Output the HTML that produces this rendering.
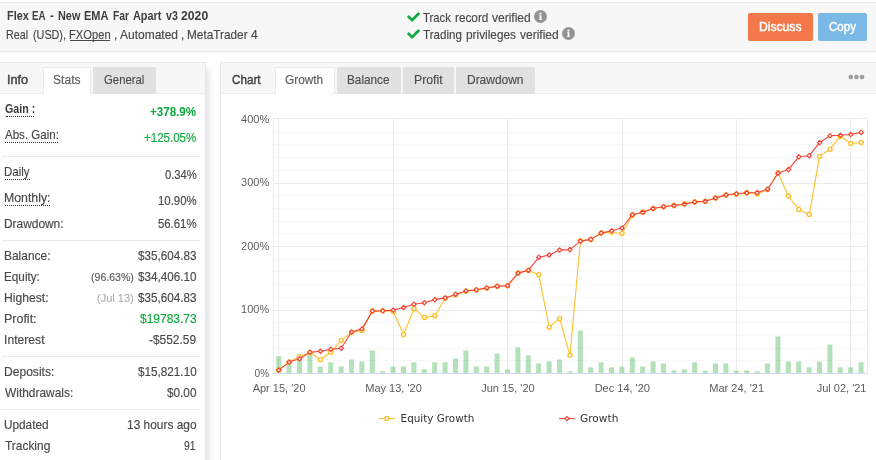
<!DOCTYPE html>
<html lang="en">
<head>
<meta charset="utf-8">
<title>Flex EA - New EMA Far Apart v3 2020</title>
<style>
html,body{margin:0;padding:0;width:876px;height:460px;overflow:hidden;background:#fff;}
#app{width:876px;height:460px;overflow:hidden;background:#fff;position:relative;font-family:"Liberation Sans",Arial,sans-serif;font-size:12.4px;color:#4a4a4a;}
.t{position:absolute;white-space:nowrap;line-height:14px;height:14px;transform-origin:0 0;-webkit-text-stroke:0.15px currentColor;text-decoration:none;}
.b{font-weight:bold;-webkit-text-stroke:0;}
.m{-webkit-text-stroke:0.45px currentColor;}
.dl{position:absolute;height:0;border-top:1px dotted #333;}
.ul{position:absolute;height:1px;}
.hdr{position:absolute;left:-1px;top:2px;width:878px;height:50px;box-sizing:border-box;background:#f7f7f7;border:1px solid #e8e8e8;box-shadow:0 1px 2px rgba(0,0,0,.05);}
.panel{position:absolute;top:62px;height:420px;background:#fff;border:1px solid #e8e8e8;box-sizing:border-box;}
.pl{left:-1px;width:207px;box-shadow:4px 5px 7px -2px rgba(50,40,100,.17);}
.pr{left:220px;width:670px;}
.tabs{position:absolute;left:0;top:0;right:0;height:30px;background:#f7f7f7;border-bottom:1px solid #ececec;}
.tab{position:absolute;top:4px;height:27px;background:#e1e1e1;box-sizing:border-box;}
.tab.on{background:#fff;border:1px solid #ececec;border-bottom:0;}
.hr{position:absolute;left:2px;width:198px;height:1px;background:#e9e9e9;}
.btn{position:absolute;top:13px;height:28px;border-radius:2px;}
.chart{position:absolute;left:0;top:0;}
.chart text{font-family:"Liberation Sans",Arial,sans-serif;font-size:11px;fill:#5c5c5c;}
.chart .lg{font-family:"DejaVu Sans","Liberation Sans",sans-serif;font-size:11px;fill:#333;}
.ic{position:absolute;}
</style>
</head>
<body>
<div id="app">
<div class="hdr"></div>
<svg class="ic" style="left:406px;top:11px" width="15" height="12" viewBox="0 0 15 12"><path d="M0.9 5.92 L2.88 3.94 L6.08 7.14 L12.22 1 L14.2 2.98 L6.08 11.1 Z" fill="#0eaa3e"/></svg>
<svg class="ic" style="left:534px;top:10.3px" width="13" height="13" viewBox="0 0 13 13"><circle cx="6.5" cy="6.5" r="6.45" fill="#939393"/><path d="M5.3 5.2 H7.4 V9.2 H8.1 V10.1 H4.9 V9.2 H5.6 V6.1 H5.3 Z M5.5 2.7 H7.4 V4.4 H5.5 Z" fill="#fff"/></svg>
<svg class="ic" style="left:406px;top:28px" width="15" height="12" viewBox="0 0 15 12"><path d="M0.9 5.92 L2.88 3.94 L6.08 7.14 L12.22 1 L14.2 2.98 L6.08 11.1 Z" fill="#0eaa3e"/></svg>
<svg class="ic" style="left:561.5px;top:27.4px" width="13" height="13" viewBox="0 0 13 13"><circle cx="6.5" cy="6.5" r="6.45" fill="#939393"/><path d="M5.3 5.2 H7.4 V9.2 H8.1 V10.1 H4.9 V9.2 H5.6 V6.1 H5.3 Z M5.5 2.7 H7.4 V4.4 H5.5 Z" fill="#fff"/></svg>
<div class="btn" style="left:748px;width:65px;background:#f4794a"></div>
<div class="btn" style="left:818px;width:49px;background:#7ab9e6"></div>

<div class="panel pl">
  <div class="tabs"></div>
  <div class="tab on" style="left:43px;width:47.5px"></div>
  <div class="tab" style="left:93px;width:63px"></div>
</div>
<div class="hr" style="top:156px"></div>
<div class="hr" style="top:240px"></div>
<div class="hr" style="top:356px"></div>
<div class="hr" style="top:409px"></div>

<div class="panel pr">
  <div class="tabs"></div>
  <div class="tab on" style="left:53.6px;width:60px"></div>
  <div class="tab" style="left:116px;width:64px"></div>
  <div class="tab" style="left:182px;width:51px"></div>
  <div class="tab" style="left:235px;width:79px"></div>
</div>
<svg class="ic" style="left:848px;top:74px" width="18" height="6" viewBox="0 0 18 6"><rect x="0.6" y="0.8" width="4.4" height="4.4" rx="1.6" fill="#a0a0a0"/><rect x="6.2" y="0.8" width="4.4" height="4.4" rx="1.6" fill="#a0a0a0"/><rect x="11.8" y="0.8" width="4.4" height="4.4" rx="1.6" fill="#a0a0a0"/></svg>

<div class="grp title">
<span class="t b" style="left:6.59px;top:9px;transform:scaleX(0.8821);color:#3c3c3c">Flex</span>
<span class="t b" style="left:32.26px;top:9px;transform:scaleX(0.7844);color:#3c3c3c">EA</span>
<span class="t b" style="left:50.47px;top:9px;transform:scaleX(0.9300);color:#3c3c3c">-</span>
<span class="t b" style="left:57.69px;top:9px;transform:scaleX(0.8788);color:#3c3c3c">New</span>
<span class="t b" style="left:84.39px;top:9px;transform:scaleX(0.8849);color:#3c3c3c">EMA</span>
<span class="t b" style="left:112.93px;top:9px;transform:scaleX(0.8301);color:#3c3c3c">Far</span>
<span class="t b" style="left:133.13px;top:9px;transform:scaleX(0.8766);color:#3c3c3c">Apart</span>
<span class="t b" style="left:165.65px;top:9px;transform:scaleX(0.8566);color:#3c3c3c">v3</span>
<span class="t b" style="left:181.16px;top:9px;transform:scaleX(0.9868);color:#3c3c3c">2020</span>
</div>
<div class="grp line2">
<span class="t" style="left:6.38px;top:28px;transform:scaleX(0.8653);color:#484848">Real</span>
<span class="t" style="left:33.10px;top:28px;transform:scaleX(0.8708);color:#484848">(USD),</span>
<a class="t" style="left:69.15px;top:28px;transform:scaleX(0.9028);color:#484848">FXOpen</a>
<i class="ul" style="left:70.0px;top:40px;width:40.0px;background:#484848"></i>
<span class="t" style="left:113.67px;top:28px;transform:scaleX(0.9300);color:#484848">,</span>
<span class="t" style="left:120.25px;top:28px;transform:scaleX(0.9679);color:#484848">Automated</span>
<span class="t" style="left:180.87px;top:28px;transform:scaleX(0.9300);color:#484848">,</span>
<span class="t" style="left:186.80px;top:28px;transform:scaleX(0.9534);color:#484848">MetaTrader</span>
<span class="t" style="left:251.26px;top:28px;transform:scaleX(0.9760);color:#484848">4</span>
</div>
<div class="grp trk">
<span class="t" style="left:423.22px;top:11px;transform:scaleX(0.9140);color:#484848">Track</span>
<span class="t" style="left:455.14px;top:11px;transform:scaleX(0.9507);color:#484848">record</span>
<span class="t" style="left:492.45px;top:11px;transform:scaleX(0.9694);color:#484848">verified</span>
</div>
<div class="grp trd">
<span class="t" style="left:423.22px;top:28px;transform:scaleX(0.9370);color:#484848">Trading</span>
<span class="t" style="left:465.83px;top:28px;transform:scaleX(0.9551);color:#484848">privileges</span>
<span class="t" style="left:520.25px;top:28px;transform:scaleX(0.9694);color:#484848">verified</span>
</div>
<span class="t m" style="left:759.47px;top:20px;transform:scaleX(0.9798);color:#fff">Discuss</span>
<span class="t m" style="left:828.65px;top:20px;transform:scaleX(0.9304);color:#fff">Copy</span>
<span class="t m" style="left:6.87px;top:73px;transform:scaleX(1.0237);color:#444">Info</span>
<span class="t" style="left:52.62px;top:73px;transform:scaleX(0.9759);color:#5e5e5e">Stats</span>
<span class="t" style="left:104.39px;top:73px;transform:scaleX(0.9158);color:#4c4c4c">General</span>
<span class="t m" style="left:231.64px;top:73px;transform:scaleX(0.9441);color:#444">Chart</span>
<span class="t" style="left:285.07px;top:73px;transform:scaleX(0.9561);color:#5e5e5e">Growth</span>
<span class="t" style="left:347.40px;top:73px;transform:scaleX(0.9491);color:#4c4c4c">Balance</span>
<span class="t" style="left:413.96px;top:73px;transform:scaleX(0.9892);color:#4c4c4c">Profit</span>
<span class="t" style="left:466.99px;top:73px;transform:scaleX(0.9648);color:#4c4c4c">Drawdown</span>
<span class="t b" style="left:5.12px;top:102px;transform:scaleX(0.8612);color:#3c3c3c">Gain :</span>
<i class="dl" style="left:6px;top:116px;width:28px"></i>
<span class="t" style="left:5.15px;top:128px;transform:scaleX(0.9313);color:#484848">Abs. Gain:</span>
<i class="dl" style="left:5px;top:142px;width:53px"></i>
<span class="t" style="left:4.22px;top:165px;transform:scaleX(0.9264);color:#484848">Daily</span>
<i class="dl" style="left:5px;top:179px;width:25px"></i>
<span class="t" style="left:4.16px;top:191px;transform:scaleX(0.9933);color:#484848">Monthly:</span>
<i class="dl" style="left:5px;top:205px;width:45px"></i>
<span class="t" style="left:4.19px;top:217px;transform:scaleX(0.9608);color:#484848">Drawdown:</span>
<span class="t" style="left:4.29px;top:249px;transform:scaleX(0.9641);color:#484848">Balance:</span>
<span class="t" style="left:4.30px;top:270px;transform:scaleX(0.9469);color:#484848">Equity:</span>
<span class="t" style="left:4.27px;top:291px;transform:scaleX(0.9815);color:#484848">Highest:</span>
<span class="t" style="left:4.14px;top:312px;transform:scaleX(1.0066);color:#484848">Profit:</span>
<span class="t" style="left:3.92px;top:333px;transform:scaleX(0.9812);color:#484848">Interest</span>
<span class="t" style="left:4.18px;top:365px;transform:scaleX(0.9747);color:#484848">Deposits:</span>
<span class="t" style="left:5.15px;top:386px;transform:scaleX(0.9627);color:#484848">Withdrawals:</span>
<span class="t" style="left:4.20px;top:418px;transform:scaleX(0.9500);color:#484848">Updated</span>
<span class="t" style="left:5.01px;top:439px;transform:scaleX(0.9620);color:#484848">Tracking</span>
<span class="t b" style="left:150.08px;top:105px;transform:scaleX(0.9351);color:#0ea83d">+378.9%</span>
<span class="t" style="left:143.98px;top:131px;transform:scaleX(0.9312);color:#0ea83d">+125.05%</span>
<span class="t" style="left:164.50px;top:168px;transform:scaleX(0.9036);color:#484848">0.34%</span>
<span class="t" style="left:157.73px;top:194px;transform:scaleX(0.9198);color:#484848">10.90%</span>
<span class="t" style="left:157.89px;top:217px;transform:scaleX(0.9159);color:#484848">56.61%</span>
<span class="t" style="left:137.71px;top:249px;transform:scaleX(0.9412);color:#484848">$35,604.83</span>
<span class="t" style="left:91.10px;top:270px;transform:scaleX(0.9964);color:#5a5a5a;font-size:10.6px">(96.63%)</span>
<span class="t" style="left:137.71px;top:270px;transform:scaleX(0.9412);color:#484848">$34,406.10</span>
<span class="t" style="left:97.07px;top:291px;transform:scaleX(1.0397);color:#b0b0b0;font-size:10.6px">(Jul 13)</span>
<span class="t" style="left:137.71px;top:291px;transform:scaleX(0.9412);color:#484848">$35,604.83</span>
<span class="t" style="left:139.81px;top:312px;transform:scaleX(0.9671);color:#0ea83d">$19783.73</span>
<span class="t" style="left:149.47px;top:333px;transform:scaleX(0.9623);color:#484848">-$552.59</span>
<span class="t" style="left:137.71px;top:365px;transform:scaleX(0.9461);color:#484848">$15,821.10</span>
<span class="t" style="left:166.91px;top:386px;transform:scaleX(0.9504);color:#484848">$0.00</span>
<span class="t" style="left:126.89px;top:418px;transform:scaleX(0.9618);color:#484848">13 hours ago</span>
<span class="t" style="left:183.53px;top:439px;transform:scaleX(0.8353);color:#484848">91</span>

<svg class="chart" width="876" height="460" viewBox="0 0 876 460">
<g fill="none" stroke-width="1">
<path d="M273 118.5 H868" stroke="#eaeaea"/>
<path d="M273 132.5 H868" stroke="#f7f7f7"/>
<path d="M273 144.5 H868" stroke="#f7f7f7"/>
<path d="M273 157.5 H868" stroke="#f7f7f7"/>
<path d="M273 170.5 H868" stroke="#f7f7f7"/>
<path d="M273 183.5 H868" stroke="#eaeaea"/>
<path d="M273 195.5 H868" stroke="#f7f7f7"/>
<path d="M273 208.5 H868" stroke="#f7f7f7"/>
<path d="M273 221.5 H868" stroke="#f7f7f7"/>
<path d="M273 233.5 H868" stroke="#f7f7f7"/>
<path d="M273 246.5 H868" stroke="#eaeaea"/>
<path d="M273 259.5 H868" stroke="#f7f7f7"/>
<path d="M273 271.5 H868" stroke="#f7f7f7"/>
<path d="M273 284.5 H868" stroke="#f7f7f7"/>
<path d="M273 297.5 H868" stroke="#f7f7f7"/>
<path d="M273 310.5 H868" stroke="#eaeaea"/>
<path d="M273 322.5 H868" stroke="#f7f7f7"/>
<path d="M273 335.5 H868" stroke="#f7f7f7"/>
<path d="M273 348.5 H868" stroke="#f7f7f7"/>
<path d="M273 360.5 H868" stroke="#f7f7f7"/>
<path d="M278.5 118 V373" stroke="#ececec"/>
<path d="M393.5 118 V373" stroke="#ececec"/>
<path d="M507.5 118 V373" stroke="#ececec"/>
<path d="M622.5 118 V373" stroke="#ececec"/>
<path d="M736.5 118 V373" stroke="#ececec"/>
<path d="M850.5 118 V373" stroke="#ececec"/>
<path d="M273.5 118 V374" stroke="#ececec"/>
<path d="M867.5 118 V374" stroke="#ececec"/>
</g>
<g fill="#41b450" fill-opacity="0.40">
<rect x="276.2" y="356.2" width="5" height="16.8"/>
<rect x="286.6" y="364.4" width="5" height="8.6"/>
<rect x="297.0" y="360.0" width="5" height="13.0"/>
<rect x="307.4" y="354.8" width="5" height="18.2"/>
<rect x="317.8" y="366.5" width="5" height="6.5"/>
<rect x="328.2" y="362.3" width="5" height="10.7"/>
<rect x="338.6" y="366.5" width="5" height="6.5"/>
<rect x="349.0" y="359.5" width="5" height="13.5"/>
<rect x="359.4" y="361.4" width="5" height="11.6"/>
<rect x="369.8" y="350.5" width="5" height="22.5"/>
<rect x="380.2" y="371.3" width="5" height="1.7"/>
<rect x="390.6" y="366.5" width="5" height="6.5"/>
<rect x="401.0" y="366.5" width="5" height="6.5"/>
<rect x="411.4" y="362.3" width="5" height="10.7"/>
<rect x="421.8" y="369.3" width="5" height="3.7"/>
<rect x="432.2" y="362.3" width="5" height="10.7"/>
<rect x="442.6" y="362.3" width="5" height="10.7"/>
<rect x="453.0" y="358.5" width="5" height="14.5"/>
<rect x="463.4" y="350.5" width="5" height="22.5"/>
<rect x="473.8" y="366.5" width="5" height="6.5"/>
<rect x="484.2" y="366.5" width="5" height="6.5"/>
<rect x="494.6" y="353.6" width="5" height="19.4"/>
<rect x="505.0" y="369.3" width="5" height="3.7"/>
<rect x="515.4" y="347.3" width="5" height="25.7"/>
<rect x="525.8" y="355.3" width="5" height="17.7"/>
<rect x="536.2" y="363.5" width="5" height="9.5"/>
<rect x="546.6" y="361.4" width="5" height="11.6"/>
<rect x="557.0" y="359.5" width="5" height="13.5"/>
<rect x="567.4" y="371.3" width="5" height="1.7"/>
<rect x="577.8" y="330.5" width="5" height="42.5"/>
<rect x="588.2" y="367.3" width="5" height="5.7"/>
<rect x="598.6" y="362.3" width="5" height="10.7"/>
<rect x="609.0" y="367.3" width="5" height="5.7"/>
<rect x="619.4" y="366.5" width="5" height="6.5"/>
<rect x="629.8" y="357.4" width="5" height="15.6"/>
<rect x="640.2" y="366.5" width="5" height="6.5"/>
<rect x="650.6" y="361.4" width="5" height="11.6"/>
<rect x="661.0" y="363.5" width="5" height="9.5"/>
<rect x="671.4" y="370.5" width="5" height="2.5"/>
<rect x="681.8" y="369.3" width="5" height="3.7"/>
<rect x="692.2" y="362.3" width="5" height="10.7"/>
<rect x="702.6" y="370.5" width="5" height="2.5"/>
<rect x="713.0" y="363.5" width="5" height="9.5"/>
<rect x="723.4" y="363.5" width="5" height="9.5"/>
<rect x="733.8" y="370.5" width="5" height="2.5"/>
<rect x="744.2" y="370.5" width="5" height="2.5"/>
<rect x="754.6" y="371.3" width="5" height="1.7"/>
<rect x="765.0" y="363.5" width="5" height="9.5"/>
<rect x="775.4" y="336.5" width="5" height="36.5"/>
<rect x="785.8" y="361.4" width="5" height="11.6"/>
<rect x="796.2" y="361.4" width="5" height="11.6"/>
<rect x="806.6" y="367.3" width="5" height="5.7"/>
<rect x="817.0" y="361.4" width="5" height="11.6"/>
<rect x="827.4" y="344.5" width="5" height="28.5"/>
<rect x="837.8" y="367.3" width="5" height="5.7"/>
<rect x="848.2" y="367.3" width="5" height="5.7"/>
<rect x="858.6" y="362.3" width="5" height="10.7"/>
</g>
<path d="M273 373.5 H868" stroke="#d2daed" stroke-width="1" fill="none"/>
<path d="M278.8 370.1 L289.2 362.1 L299.6 356.6 L310.0 352.4 L320.4 359.7 L330.8 352.2 L341.2 340.4 L351.6 332.4 L362.0 330.5 L372.4 311.1 L382.8 310.8 L393.2 311.5 L403.6 334.6 L414.0 308.7 L424.4 317.4 L434.8 315.7 L445.2 298.2 L455.6 294.7 L466.0 291.2 L476.4 290.0 L486.8 288.2 L497.2 286.2 L507.6 285.7 L518.0 273.1 L528.4 270.4 L538.8 274.7 L549.2 327.2 L559.6 318.4 L570.0 355.3 L580.4 241.1 L590.8 239.4 L601.2 233.1 L611.6 232.3 L622.0 233.5 L632.4 215.0 L642.8 212.3 L653.2 208.5 L663.6 206.7 L674.0 205.5 L684.4 203.8 L694.8 201.9 L705.2 201.6 L715.6 198.0 L726.0 194.9 L736.4 194.2 L746.8 192.8 L757.2 194.0 L767.6 189.5 L778.0 172.8 L788.4 196.0 L798.8 209.4 L809.2 214.6 L819.6 156.4 L830.0 149.2 L840.4 136.2 L850.8 143.5 L861.2 142.5" stroke="#fbc02d" stroke-width="1.1" fill="none" stroke-linejoin="round"/>
<g fill="#fff" stroke="#fbc02d" stroke-width="1.4">
<circle cx="278.8" cy="370.1" r="2.05"/>
<circle cx="289.2" cy="362.1" r="2.05"/>
<circle cx="299.6" cy="356.6" r="2.05"/>
<circle cx="310.0" cy="352.4" r="2.05"/>
<circle cx="320.4" cy="359.7" r="2.05"/>
<circle cx="330.8" cy="352.2" r="2.05"/>
<circle cx="341.2" cy="340.4" r="2.05"/>
<circle cx="351.6" cy="332.4" r="2.05"/>
<circle cx="362.0" cy="330.5" r="2.05"/>
<circle cx="372.4" cy="311.1" r="2.05"/>
<circle cx="382.8" cy="310.8" r="2.05"/>
<circle cx="393.2" cy="311.5" r="2.05"/>
<circle cx="403.6" cy="334.6" r="2.05"/>
<circle cx="414.0" cy="308.7" r="2.05"/>
<circle cx="424.4" cy="317.4" r="2.05"/>
<circle cx="434.8" cy="315.7" r="2.05"/>
<circle cx="445.2" cy="298.2" r="2.05"/>
<circle cx="455.6" cy="294.7" r="2.05"/>
<circle cx="466.0" cy="291.2" r="2.05"/>
<circle cx="476.4" cy="290.0" r="2.05"/>
<circle cx="486.8" cy="288.2" r="2.05"/>
<circle cx="497.2" cy="286.2" r="2.05"/>
<circle cx="507.6" cy="285.7" r="2.05"/>
<circle cx="518.0" cy="273.1" r="2.05"/>
<circle cx="528.4" cy="270.4" r="2.05"/>
<circle cx="538.8" cy="274.7" r="2.05"/>
<circle cx="549.2" cy="327.2" r="2.05"/>
<circle cx="559.6" cy="318.4" r="2.05"/>
<circle cx="570.0" cy="355.3" r="2.05"/>
<circle cx="580.4" cy="241.1" r="2.05"/>
<circle cx="590.8" cy="239.4" r="2.05"/>
<circle cx="601.2" cy="233.1" r="2.05"/>
<circle cx="611.6" cy="232.3" r="2.05"/>
<circle cx="622.0" cy="233.5" r="2.05"/>
<circle cx="632.4" cy="215.0" r="2.05"/>
<circle cx="642.8" cy="212.3" r="2.05"/>
<circle cx="653.2" cy="208.5" r="2.05"/>
<circle cx="663.6" cy="206.7" r="2.05"/>
<circle cx="674.0" cy="205.5" r="2.05"/>
<circle cx="684.4" cy="203.8" r="2.05"/>
<circle cx="694.8" cy="201.9" r="2.05"/>
<circle cx="705.2" cy="201.6" r="2.05"/>
<circle cx="715.6" cy="198.0" r="2.05"/>
<circle cx="726.0" cy="194.9" r="2.05"/>
<circle cx="736.4" cy="194.2" r="2.05"/>
<circle cx="746.8" cy="192.8" r="2.05"/>
<circle cx="757.2" cy="194.0" r="2.05"/>
<circle cx="767.6" cy="189.5" r="2.05"/>
<circle cx="778.0" cy="172.8" r="2.05"/>
<circle cx="788.4" cy="196.0" r="2.05"/>
<circle cx="798.8" cy="209.4" r="2.05"/>
<circle cx="809.2" cy="214.6" r="2.05"/>
<circle cx="819.6" cy="156.4" r="2.05"/>
<circle cx="830.0" cy="149.2" r="2.05"/>
<circle cx="840.4" cy="136.2" r="2.05"/>
<circle cx="850.8" cy="143.5" r="2.05"/>
<circle cx="861.2" cy="142.5" r="2.05"/>
</g>
<path d="M278.8 370.1 L289.2 362.1 L299.6 358.8 L310.0 352.4 L320.4 351.3 L330.8 349.4 L341.2 348.2 L351.6 332.0 L362.0 328.9 L372.4 311.1 L382.8 310.8 L393.2 310.1 L403.6 307.5 L414.0 304.3 L424.4 302.7 L434.8 299.6 L445.2 297.9 L455.6 294.4 L466.0 290.9 L476.4 289.7 L486.8 287.9 L497.2 286.2 L507.6 285.7 L518.0 273.1 L528.4 270.2 L538.8 257.4 L549.2 255.0 L559.6 250.1 L570.0 249.6 L580.4 241.1 L590.8 239.4 L601.2 233.1 L611.6 230.8 L622.0 228.0 L632.4 214.7 L642.8 212.3 L653.2 208.5 L663.6 206.7 L674.0 205.5 L684.4 204.3 L694.8 201.9 L705.2 201.3 L715.6 198.0 L726.0 194.9 L736.4 193.8 L746.8 192.8 L757.2 192.6 L767.6 189.2 L778.0 173.2 L788.4 169.6 L798.8 156.8 L809.2 155.7 L819.6 142.6 L830.0 135.8 L840.4 135.3 L850.8 134.5 L861.2 132.4" stroke="#f44336" stroke-width="1.1" fill="none" stroke-linejoin="round"/>
<g fill="#fff" stroke="#f44336" stroke-width="1.2">
<path d="M278.8 368.0 L280.9 370.1 L278.8 372.2 L276.7 370.1 Z"/>
<path d="M289.2 360.0 L291.3 362.1 L289.2 364.2 L287.1 362.1 Z"/>
<path d="M299.6 356.7 L301.8 358.8 L299.6 360.9 L297.5 358.8 Z"/>
<path d="M310.0 350.2 L312.1 352.4 L310.0 354.5 L307.9 352.4 Z"/>
<path d="M320.4 349.2 L322.6 351.3 L320.4 353.4 L318.3 351.3 Z"/>
<path d="M330.8 347.2 L332.9 349.4 L330.8 351.5 L328.7 349.4 Z"/>
<path d="M341.2 346.1 L343.4 348.2 L341.2 350.3 L339.1 348.2 Z"/>
<path d="M351.6 329.9 L353.8 332.0 L351.6 334.1 L349.5 332.0 Z"/>
<path d="M362.0 326.8 L364.1 328.9 L362.0 331.0 L359.9 328.9 Z"/>
<path d="M372.4 309.0 L374.6 311.1 L372.4 313.2 L370.3 311.1 Z"/>
<path d="M382.8 308.7 L384.9 310.8 L382.8 312.9 L380.7 310.8 Z"/>
<path d="M393.2 308.0 L395.4 310.1 L393.2 312.2 L391.1 310.1 Z"/>
<path d="M403.6 305.4 L405.8 307.5 L403.6 309.6 L401.5 307.5 Z"/>
<path d="M414.0 302.2 L416.1 304.3 L414.0 306.4 L411.9 304.3 Z"/>
<path d="M424.4 300.6 L426.5 302.7 L424.4 304.8 L422.2 302.7 Z"/>
<path d="M434.8 297.5 L436.9 299.6 L434.8 301.8 L432.7 299.6 Z"/>
<path d="M445.2 295.8 L447.4 297.9 L445.2 300.0 L443.1 297.9 Z"/>
<path d="M455.6 292.2 L457.8 294.4 L455.6 296.5 L453.5 294.4 Z"/>
<path d="M466.0 288.8 L468.1 290.9 L466.0 293.0 L463.9 290.9 Z"/>
<path d="M476.4 287.6 L478.5 289.7 L476.4 291.8 L474.2 289.7 Z"/>
<path d="M486.8 285.8 L488.9 287.9 L486.8 290.0 L484.7 287.9 Z"/>
<path d="M497.2 284.1 L499.4 286.2 L497.2 288.3 L495.1 286.2 Z"/>
<path d="M507.6 283.6 L509.8 285.7 L507.6 287.8 L505.5 285.7 Z"/>
<path d="M518.0 271.0 L520.1 273.1 L518.0 275.2 L515.9 273.1 Z"/>
<path d="M528.4 268.1 L530.6 270.2 L528.4 272.3 L526.3 270.2 Z"/>
<path d="M538.8 255.2 L540.9 257.4 L538.8 259.5 L536.6 257.4 Z"/>
<path d="M549.2 252.8 L551.4 255.0 L549.2 257.1 L547.1 255.0 Z"/>
<path d="M559.6 247.9 L561.8 250.1 L559.6 252.2 L557.5 250.1 Z"/>
<path d="M570.0 247.4 L572.1 249.6 L570.0 251.8 L567.9 249.6 Z"/>
<path d="M580.4 238.9 L582.6 241.1 L580.4 243.2 L578.3 241.1 Z"/>
<path d="M590.8 237.2 L592.9 239.4 L590.8 241.6 L588.6 239.4 Z"/>
<path d="M601.2 230.9 L603.4 233.1 L601.2 235.2 L599.1 233.1 Z"/>
<path d="M611.6 228.7 L613.8 230.8 L611.6 233.0 L609.5 230.8 Z"/>
<path d="M622.0 225.8 L624.1 228.0 L622.0 230.2 L619.9 228.0 Z"/>
<path d="M632.4 212.5 L634.6 214.7 L632.4 216.8 L630.3 214.7 Z"/>
<path d="M642.8 210.2 L644.9 212.3 L642.8 214.5 L640.6 212.3 Z"/>
<path d="M653.2 206.3 L655.4 208.5 L653.2 210.7 L651.1 208.5 Z"/>
<path d="M663.6 204.5 L665.8 206.7 L663.6 208.8 L661.5 206.7 Z"/>
<path d="M674.0 203.3 L676.1 205.5 L674.0 207.7 L671.9 205.5 Z"/>
<path d="M684.4 202.2 L686.6 204.3 L684.4 206.5 L682.3 204.3 Z"/>
<path d="M694.8 199.8 L696.9 201.9 L694.8 204.1 L692.6 201.9 Z"/>
<path d="M705.2 199.2 L707.4 201.3 L705.2 203.5 L703.1 201.3 Z"/>
<path d="M715.6 195.8 L717.8 198.0 L715.6 200.2 L713.5 198.0 Z"/>
<path d="M726.0 192.8 L728.1 194.9 L726.0 197.1 L723.9 194.9 Z"/>
<path d="M736.4 191.7 L738.6 193.8 L736.4 196.0 L734.3 193.8 Z"/>
<path d="M746.8 190.7 L748.9 192.8 L746.8 195.0 L744.6 192.8 Z"/>
<path d="M757.2 190.4 L759.4 192.6 L757.2 194.8 L755.1 192.6 Z"/>
<path d="M767.6 187.0 L769.8 189.2 L767.6 191.3 L765.5 189.2 Z"/>
<path d="M778.0 171.0 L780.1 173.2 L778.0 175.3 L775.9 173.2 Z"/>
<path d="M788.4 167.4 L790.6 169.6 L788.4 171.8 L786.3 169.6 Z"/>
<path d="M798.8 154.7 L800.9 156.8 L798.8 159.0 L796.6 156.8 Z"/>
<path d="M809.2 153.5 L811.4 155.7 L809.2 157.8 L807.1 155.7 Z"/>
<path d="M819.6 140.4 L821.8 142.6 L819.6 144.8 L817.5 142.6 Z"/>
<path d="M830.0 133.7 L832.1 135.8 L830.0 138.0 L827.9 135.8 Z"/>
<path d="M840.4 133.2 L842.6 135.3 L840.4 137.5 L838.3 135.3 Z"/>
<path d="M850.8 132.3 L852.9 134.5 L850.8 136.7 L848.6 134.5 Z"/>
<path d="M861.2 130.2 L863.4 132.4 L861.2 134.6 L859.1 132.4 Z"/>
</g>
<text x="269.2" y="123" text-anchor="end" class="yl">400%</text>
<text x="269.2" y="186" text-anchor="end" class="yl">300%</text>
<text x="269.2" y="250" text-anchor="end" class="yl">200%</text>
<text x="269.2" y="313" text-anchor="end" class="yl">100%</text>
<text x="269.2" y="377" text-anchor="end" class="yl" textLength="14.6" lengthAdjust="spacingAndGlyphs">0%</text>
<text x="279.1" y="392" text-anchor="middle" class="xl">Apr 15, '20</text>
<text x="393.5" y="392" text-anchor="middle" class="xl">May 13, '20</text>
<text x="507.9" y="392" text-anchor="middle" class="xl">Jun 15, '20</text>
<text x="622.3" y="392" text-anchor="middle" class="xl">Dec 14, '20</text>
<text x="736.7" y="392" text-anchor="middle" class="xl">Mar 24, '21</text>
<text x="866.5" y="392" text-anchor="end" class="xl">Jul 02, '21</text>
<path d="M379 418.6 H395" stroke="#fbc02d" stroke-width="1.1"/><circle cx="386.9" cy="418.6" r="2.05" fill="#fff" stroke="#fbc02d" stroke-width="1.4"/>
<text x="400.6" y="422" class="lg" textLength="73.8" lengthAdjust="spacingAndGlyphs">Equity Growth</text>
<path d="M559 418.6 H575" stroke="#f44336" stroke-width="1.1"/><path d="M566.9 416.5 L569 418.6 L566.9 420.7 L564.8 418.6 Z" fill="#fff" stroke="#f44336" stroke-width="1.2"/>
<text x="580" y="422" class="lg" textLength="38.4" lengthAdjust="spacingAndGlyphs">Growth</text>
</svg>
</div>
</body>
</html>
